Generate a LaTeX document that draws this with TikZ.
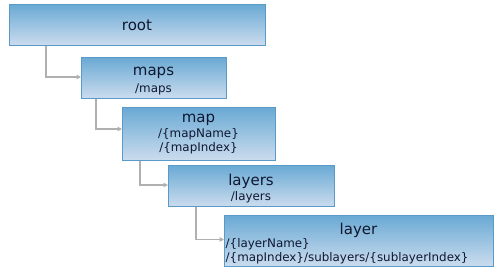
\documentclass[tikz,border=0pt]{standalone}
\usepackage{fontspec}
\setmainfont{DejaVu Sans}
\usetikzlibrary{arrows.meta}
\definecolor{boxtop}{HTML}{6AAAD4}
\definecolor{boxbot}{HTML}{CCDCEE}
\definecolor{boxline}{HTML}{5A9AC8}
\definecolor{conn}{HTML}{B0B0B0}
\definecolor{txt}{HTML}{101830}
\tikzset{
  box/.style={draw=boxline, line width=1pt, top color=boxtop, bottom color=boxbot, inner sep=0pt, anchor=north west},
  ttl/.style={font=\fontsize{15}{17}\selectfont, text=txt, inner sep=0pt},
  sub/.style={font=\fontsize{11.9}{13}\selectfont, text=txt, inner sep=0pt},
  conn/.style={draw=conn, line width=1.4pt, -{Triangle[length=4.5pt,width=4.5pt]}}
}
\begin{document}
\begin{tikzpicture}[x=1pt,y=-1pt]
\useasboundingbox (0,0) rectangle (500,280);
\node[box, minimum width=256pt, minimum height=41pt] (root) at (9,4) {};
\node[box, minimum width=145pt, minimum height=41pt] (maps) at (81,57) {};
\node[box, minimum width=153pt, minimum height=53pt] (map) at (122,107) {};
\node[box, minimum width=166pt, minimum height=41pt] (layers) at (168,165) {};
\node[box, minimum width=269pt, minimum height=51pt] (layer) at (224,215) {};
\node[ttl] (t1) at (137,25) {root};
\node[ttl] (t2) at (153.5,73) {maps};
\node[sub] (s2) at (153.5,89) {/maps};
\node[ttl] (t3) at (198.5,120) {map};
\node[sub] (s3a) at (198.5,134.5) {/\{mapName\}};
\node[sub] (s3b) at (198.5,148.5) {/\{mapIndex\}};
\node[ttl] (t4) at (251,181) {layers};
\node[sub] (s4) at (251,197) {/layers};
\node[ttl] (t5) at (358.5,230) {layer};
\node[sub, anchor=west] (s5a) at (225.5,244.5) {/\{layerName\}};
\node[sub, anchor=west] (s5b) at (225.5,258) {/\{mapIndex\}/sublayers/\{sublayerIndex\}};
\coordinate (c1) at (46,0);
\coordinate (c2) at (96,0);
\coordinate (c3) at (140,0);
\coordinate (c4) at (196,0);
\draw[conn] (c1 |- root.south) |- ([yshift=1pt]maps.west);
\draw[conn] (c2 |- maps.south) |- ([yshift=5pt]map.west);
\draw[conn] (c3 |- map.south) |- ([yshift=1pt]layers.west);
\draw[conn] (c4 |- layers.south) |- ([yshift=1.5pt]layer.west);
\end{tikzpicture}
\end{document}
